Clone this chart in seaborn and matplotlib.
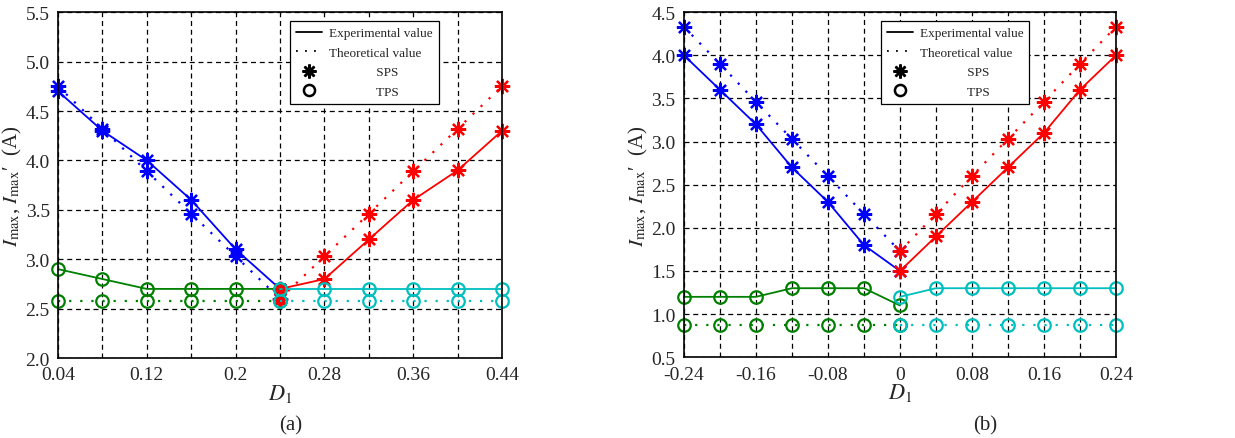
import numpy as np
import pandas as pd
import seaborn as sns
import matplotlib.pyplot as plt
from matplotlib.lines import Line2D

# === data (a) ===
xa_left = [0.04, 0.08, 0.12, 0.16, 0.20, 0.24]
xa_right = [0.24, 0.28, 0.32, 0.36, 0.40, 0.44]
a_sps_exp_left = [4.70, 4.30, 4.00, 3.60, 3.10, 2.70]
a_sps_th_left = [4.75, 4.32, 3.89, 3.46, 3.03, 2.60]
a_sps_exp_right = [2.70, 2.80, 3.20, 3.60, 3.90, 4.30]
a_sps_th_right = [2.60, 3.03, 3.46, 3.89, 4.32, 4.75]
a_tps_exp_left = [2.90, 2.80, 2.70, 2.70, 2.70, 2.70]
a_tps_th_left = [2.58, 2.58, 2.58, 2.58, 2.58, 2.58]
a_tps_exp_right = [2.70, 2.70, 2.70, 2.70, 2.70, 2.70]
a_tps_th_right = [2.58, 2.58, 2.58, 2.58, 2.58, 2.58]

# === data (b) ===
xb_left = [-0.24, -0.20, -0.16, -0.12, -0.08, -0.04, 0.0]
xb_right = [0.0, 0.04, 0.08, 0.12, 0.16, 0.20, 0.24]
b_sps_exp_left = [4.00, 3.60, 3.20, 2.70, 2.30, 1.80, 1.50]
b_sps_th_left = [4.33, 3.90, 3.46, 3.03, 2.60, 2.16, 1.73]
b_sps_exp_right = [1.50, 1.90, 2.30, 2.70, 3.10, 3.60, 4.00]
b_sps_th_right = [1.73, 2.16, 2.60, 3.03, 3.46, 3.90, 4.33]
b_tps_exp_left = [1.20, 1.20, 1.20, 1.30, 1.30, 1.30, 1.10]
b_tps_th_left = [0.87, 0.87, 0.87, 0.87, 0.87, 0.87, 0.87]
b_tps_exp_right = [1.20, 1.30, 1.30, 1.30, 1.30, 1.30, 1.30]
b_tps_th_right = [0.87, 0.87, 0.87, 0.87, 0.87, 0.87, 0.87]

sns.set_style("white")
plt.rcParams['font.family'] = ['Liberation Serif', 'DejaVu Serif']
plt.rcParams['mathtext.fontset'] = 'stix'

STAR = (8, 2, 0)
BLUE, RED, GREEN, CYAN = "#0000ff", "#ff0000", "#008000", "#00bfbf"
DOTS = (1, 4)


def draw(ax, x, y, color, ls, marker):
    df = pd.DataFrame({"x": x, "y": y})
    kw = dict(markeredgewidth=1.6, markeredgecolor=color)
    if marker == "o":
        kw["markerfacecolor"] = "none"
        kw["markersize"] = 9
    else:
        kw["markersize"] = 11
    if ls == ":":
        kw["dashes"] = DOTS
        lw = 1.6
    else:
        lw = 1.3
    sns.lineplot(data=df, x="x", y="y", ax=ax, color=color, marker=marker,
                 linewidth=lw, estimator=None, sort=False, legend=False, **kw)


def fmt(v):
    s = f"{v:.2f}".rstrip("0").rstrip(".")
    return "0" if s == "-0" else s


def style(ax, xlim, ylim, xticks, ygrid, xgrid, leg_x):
    ax.set_xlim(xlim)
    ax.set_ylim(ylim)
    ax.set_xticks(xgrid)
    ax.set_xticklabels([fmt(v) if any(abs(v - t) < 1e-9 for t in xticks) else ""
                        for v in xgrid])
    ax.set_yticks(ygrid)
    ax.set_yticklabels([f"{v:.1f}" for v in ygrid])
    ax.grid(True, color="black", linestyle=(0, (4, 3)), linewidth=0.9)
    ax.set_axisbelow(True)
    for s in ax.spines.values():
        s.set_color("black")
        s.set_linewidth(1.2)
    ax.tick_params(length=0, labelsize=14, pad=6)
    ax.set_xlabel("$D_1$", fontsize=16, labelpad=-1)
    ax.set_ylabel(r"$I_{\max}$, $I_{\max}$′  (A)", fontsize=15, labelpad=1)
    handles = [
        Line2D([], [], color="black", lw=1.3, label="Experimental value"),
        Line2D([], [], color="black", lw=1.3, ls=(0, DOTS), label="Theoretical value"),
        Line2D([], [], color="black", lw=0, marker=STAR, ms=10, mew=1.8,
               label="              SPS"),
        Line2D([], [], color="black", lw=0, marker="o", ms=8, mew=1.8, mfc="none",
               label="              TPS"),
    ]
    leg = ax.legend(handles=handles, loc="upper left", bbox_to_anchor=(leg_x, 0.974),
                    fontsize=9.5, frameon=True, fancybox=False, edgecolor="black",
                    framealpha=1, handlelength=2.0, handletextpad=0.5,
                    labelspacing=0.55, borderpad=0.45, borderaxespad=0)
    leg.get_frame().set_linewidth(0.9)


fig = plt.figure(figsize=(12.35, 4.39), dpi=100)
ax1 = fig.add_axes([0.047, 0.182, 0.3595, 0.788])
ax2 = fig.add_axes([0.5538, 0.184, 0.3498, 0.786])

# --- (a) ---
draw(ax1, xa_left, a_sps_exp_left, BLUE, "-", STAR)
draw(ax1, xa_left, a_sps_th_left, BLUE, ":", STAR)
draw(ax1, xa_right, a_sps_exp_right, RED, "-", STAR)
draw(ax1, xa_right, a_sps_th_right, RED, ":", STAR)
draw(ax1, xa_left, a_tps_exp_left, GREEN, "-", "o")
draw(ax1, xa_left, a_tps_th_left, GREEN, ":", "o")
draw(ax1, xa_right, a_tps_exp_right, CYAN, "-", "o")
draw(ax1, xa_right, a_tps_th_right, CYAN, ":", "o")
ax1.plot([xa_right[0]] * 2, [a_tps_exp_right[0], a_tps_th_right[0]], ls="none",
         marker="o", ms=5, mfc="none", mec=RED, mew=1.8)
style(ax1, (0.04, 0.44), (2.0, 5.5), [0.04, 0.12, 0.2, 0.28, 0.36, 0.44],
      np.arange(2.0, 5.51, 0.5), np.round(np.arange(0.04, 0.441, 0.04), 2), 0.5225)

# --- (b) ---
draw(ax2, xb_left, b_sps_exp_left, BLUE, "-", STAR)
draw(ax2, xb_left, b_sps_th_left, BLUE, ":", STAR)
draw(ax2, xb_right, b_sps_exp_right, RED, "-", STAR)
draw(ax2, xb_right, b_sps_th_right, RED, ":", STAR)
draw(ax2, xb_left, b_tps_exp_left, GREEN, "-", "o")
draw(ax2, xb_left, b_tps_th_left, GREEN, ":", "o")
draw(ax2, xb_right, b_tps_exp_right, CYAN, "-", "o")
draw(ax2, xb_right, b_tps_th_right, CYAN, ":", "o")
style(ax2, (-0.24, 0.24), (0.5, 4.5), [-0.24, -0.16, -0.08, 0.0, 0.08, 0.16, 0.24],
      np.arange(0.5, 4.51, 0.5), np.round(np.arange(-0.24, 0.241, 0.04), 2), 0.456)

for a in (ax1, ax2):
    for line in a.get_lines():
        line.set_clip_on(False)

fig.text(0.235, 0.030, "(a)", ha="center", va="center", fontsize=15)
fig.text(0.798, 0.030, "(b)", ha="center", va="center", fontsize=15)

fig.savefig("out.png", dpi=100)
